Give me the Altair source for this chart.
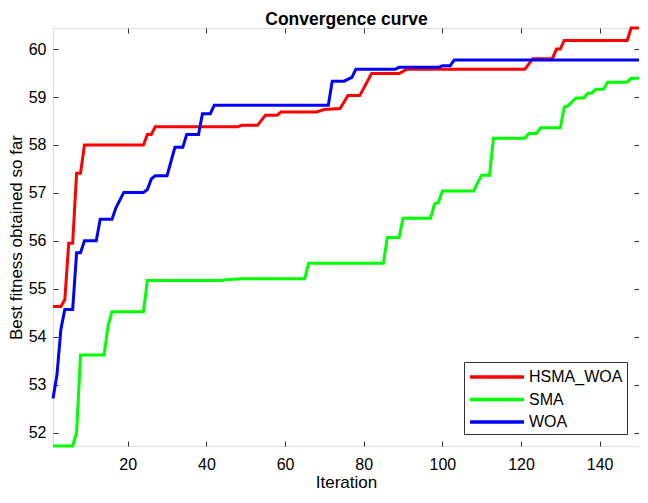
import altair as alt
import pandas as pd

series_names = ["HSMA_WOA", "SMA", "WOA"]
series_colors = ["#ff0000", "#00ff00", "#0000ff"]

hsma_iter = [1, 3, 4, 5, 6, 7, 8, 9, 24, 25, 26, 27, 48, 49, 53, 55, 58, 59, 68, 70, 74, 76, 79, 82,
             89, 91, 121, 123, 128, 129, 130, 131, 147, 148, 150]
hsma_val = [54.63, 54.63, 54.77, 55.95, 55.95, 57.41, 57.41, 58.0, 58.0, 58.22, 58.22, 58.38, 58.38,
            58.41, 58.41, 58.62, 58.62, 58.69, 58.69, 58.74, 58.76, 59.03, 59.03, 59.49, 59.49, 59.58,
            59.58, 59.8, 59.8, 60.0, 60.0, 60.18, 60.18, 60.44, 60.44]

sma_iter = [1, 6, 7, 8, 14, 15, 16, 24, 25, 44, 45, 49, 65, 66, 85, 86, 89, 90, 97, 98, 99, 100, 108,
            109, 110, 112, 113, 121, 122, 124, 125, 130, 131, 132, 134, 136, 137, 138, 139, 141, 142,
            147, 148, 150]
sma_val = [51.72, 51.72, 52.0, 53.62, 53.62, 54.23, 54.52, 54.52, 55.17, 55.17, 55.19, 55.21, 55.21,
           55.53, 55.53, 56.07, 56.07, 56.47, 56.47, 56.77, 56.8, 57.04, 57.04, 57.22, 57.37, 57.37,
           58.14, 58.14, 58.24, 58.24, 58.36, 58.36, 58.79, 58.82, 58.98, 58.98, 59.08, 59.08, 59.16,
           59.16, 59.31, 59.31, 59.39, 59.39]

woa_iter = [1, 2, 3, 4, 6, 7, 8, 9, 12, 13, 16, 17, 19, 24, 25, 26, 27, 30, 32, 34, 35, 38, 39, 41,
            42, 71, 72, 75, 77, 78, 88, 89, 99, 100, 102, 103, 150]
woa_val = [52.71, 53.2, 54.15, 54.57, 54.57, 55.75, 55.75, 56.0, 56.0, 56.45, 56.45, 56.69, 57.01,
           57.01, 57.07, 57.29, 57.36, 57.36, 57.95, 57.95, 58.22, 58.22, 58.65, 58.65, 58.83, 58.83,
           59.33, 59.33, 59.41, 59.58, 59.58, 59.62, 59.62, 59.65, 59.65, 59.77, 59.77]

x_ticks = [20, 40, 60, 80, 100, 120, 140]
y_ticks = [52, 53, 54, 55, 56, 57, 58, 59, 60]
x_domain = [1, 150]
y_domain = [51.72, 60.44]

FONT = "Liberation Sans"

frames = []
for name, its, vals in [("HSMA_WOA", hsma_iter, hsma_val), ("SMA", sma_iter, sma_val), ("WOA", woa_iter, woa_val)]:
    frames.append(pd.DataFrame({"iter": its, "value": vals, "series": name}))
df = pd.concat(frames, ignore_index=True)

xscale = alt.Scale(domain=x_domain, nice=False, zero=False)
yscale = alt.Scale(domain=y_domain, nice=False, zero=False)

x_axis_main = alt.Axis(orient="bottom", values=x_ticks, offset=-5, tickSize=5, domain=False,
                       labelPadding=10, labelFontSize=16, labelFont=FONT, labelColor="black",
                       tickColor="#333", grid=False, title="Iteration", titleFontSize=17,
                       titleFont=FONT, titleFontWeight="normal", titleColor="black", titlePadding=2)
y_axis_main = alt.Axis(orient="left", values=y_ticks, offset=-5, tickSize=5, domain=False,
                       labelPadding=7, labelFontSize=16, labelFont=FONT, labelColor="black",
                       tickColor="#333", grid=False, title="Best fitness obtained so far",
                       titleFontSize=17, titleFont=FONT, titleFontWeight="normal",
                       titleColor="black", titlePadding=3)

legend = alt.Legend(title=None, orient="bottom-right", offset=12, symbolType="M-3,0H3",
                    symbolSize=324, symbolStrokeWidth=3.5, symbolOffset=18, labelFontSize=16,
                    labelFont=FONT, labelColor="black", strokeColor="#333", fillColor="white",
                    padding=4, rowPadding=3.5, labelOffset=21, cornerRadius=0)
color = alt.Color("series:N", scale=alt.Scale(domain=series_names, range=series_colors), legend=legend)

layers = []
for i, name in enumerate(series_names):
    layers.append(
        alt.Chart(df).transform_filter(alt.datum.series == name).mark_line(strokeWidth=3).encode(
            x=alt.X("iter:Q", scale=xscale, axis=x_axis_main if i == 0 else None),
            y=alt.Y("value:Q", scale=yscale, axis=y_axis_main if i == 0 else None),
            color=color,
        )
    )

frame_axes = alt.Chart(df).mark_line(strokeOpacity=0).encode(
    x=alt.X("iter:Q", scale=xscale,
            axis=alt.Axis(orient="top", values=x_ticks, offset=-5, tickSize=5, domain=False,
                          labels=False, tickColor="#333", grid=False,
                          title="Convergence curve", titleFont=FONT, titleFontSize=17.5,
                          titleFontWeight="bold", titleColor="black", titleY=-9,
                          titleBaseline="alphabetic")),
    y=alt.Y("value:Q", scale=yscale,
            axis=alt.Axis(orient="right", values=y_ticks, offset=-5, tickSize=5, domain=False,
                          labels=False, tickColor="#333", grid=False, title=None)),
)

chart = alt.layer(*layers, frame_axes).resolve_axis(x="independent", y="independent").properties(
    width=586, height=418,
    autosize=alt.AutoSizeParams(type="none"),
    padding={"left": 45, "top": 20, "right": 0, "bottom": 48},
).configure_view(stroke="#333", strokeWidth=1).configure(background="white")

chart.save("out.html", embed_options={"renderer": "svg", "actions": False})
